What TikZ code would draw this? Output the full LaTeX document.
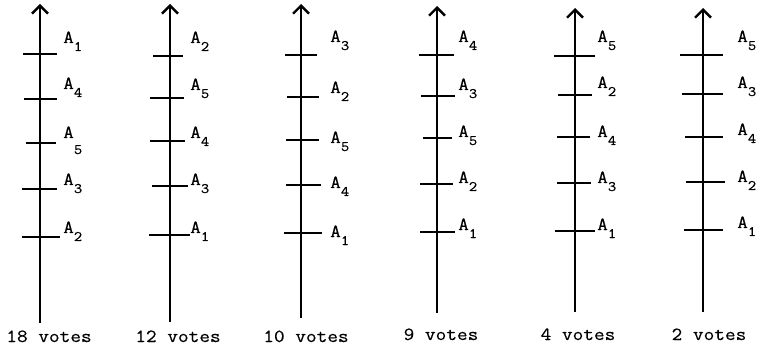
\documentclass[tikz,border=0pt]{standalone}
\usepackage{fontspec}
\setmainfont[FakeStretch=1.12,FakeBold=0.3]{Latin Modern Mono}
\usetikzlibrary{arrows.meta}
\newcommand\subsz{\fontsize{14.5}{14.5}\selectfont}
\begin{document}
\begin{tikzpicture}[x=1pt,y=-1pt,
  axis/.style={line width=2.7pt,-{Straight Barb[length=8pt,width=16pt,line width=2.4pt]}},
  tickmark/.style={line width=2.7pt},
  lab/.style={font=\fontsize{18.5}{18.5}\selectfont,inner sep=0pt,anchor=base west},
  votes/.style={font=\fontsize{18.5}{18.5}\selectfont,inner sep=0pt,anchor=base}]
\useasboundingbox (0,0) rectangle (761,350);
% axis 1
\coordinate (b1) at (40,323); \coordinate (t1) at (40,4);
\draw[axis] (b1) -- (t1);
\foreach \y/\a/\b/\n/\ly/\d in {54/23/57/1/43/8, 99/24/57/4/89/8, 143/26/56/5/138/16, 189/22/57/3/185/8, 237/22/60/2/233/8}{
  \draw[tickmark] (\a,\y) -- (\b,\y);
  \node[lab] (l1-\n) at (63,\ly) {A\raisebox{-\d pt}{\subsz\n}};}
\node[votes] (v1) at (49,342) {18 votes};
% axis 2
\coordinate (b2) at (170,322); \coordinate (t2) at (170,4);
\draw[axis] (b2) -- (t2);
\foreach \y/\a/\b/\n/\ly/\d in {56/153/183/2/43/8, 98/150/184/5/90/8, 141/150/185/4/138/8, 186/152/188/3/185/8, 235/149/190/1/233/8}{
  \draw[tickmark] (\a,\y) -- (\b,\y);
  \node[lab] (l2-\n) at (190,\ly) {A\raisebox{-\d pt}{\subsz\n}};}
\node[votes] (v2) at (178,342) {12 votes};
% axis 3
\coordinate (b3) at (301,318); \coordinate (t3) at (301,4);
\draw[axis] (b3) -- (t3);
\foreach \y/\a/\b/\n/\ly/\d in {55/285/317/3/42/8, 97/287/319/2/93/8, 140/286/319/5/143/8, 185/286/321/4/188/8, 233/284/322/1/237/8}{
  \draw[tickmark] (\a,\y) -- (\b,\y);
  \node[lab] (l3-\n) at (330,\ly) {A\raisebox{-\d pt}{\subsz\n}};}
\node[votes] (v3) at (306,342) {10 votes};
% axis 4
\coordinate (b4) at (437,313); \coordinate (t4) at (437,6);
\draw[axis] (b4) -- (t4);
\foreach \y/\a/\b/\n/\ly/\d in {55/419/454/4/42/8, 96/421/455/3/90/8, 138/423/452/5/137/8, 184/420/453/2/183/8, 232/420/455/1/230/8}{
  \draw[tickmark] (\a,\y) -- (\b,\y);
  \node[lab] (l4-\n) at (458,\ly) {A\raisebox{-\d pt}{\subsz\n}};}
\node[votes] (v4) at (441,340) {9 votes};
% axis 5
\coordinate (b5) at (575,312); \coordinate (t5) at (575,8);
\draw[axis] (b5) -- (t5);
\foreach \y/\a/\b/\n/\ly/\d in {56/554/595/5/42/8, 95/558/592/2/88/8, 137/557/590/4/137/8, 183/557/591/3/183/8, 231/555/595/1/230/8}{
  \draw[tickmark] (\a,\y) -- (\b,\y);
  \node[lab] (l5-\n) at (597,\ly) {A\raisebox{-\d pt}{\subsz\n}};}
\node[votes] (v5) at (578,340) {4 votes};
% axis 6
\coordinate (b6) at (703,312); \coordinate (t6) at (703,8);
\draw[axis] (b6) -- (t6);
\foreach \y/\a/\b/\n/\ly/\d in {55/680/723/5/42/8, 94/682/723/3/88/8, 137/685/723/4/135/8, 182/686/725/2/182/8, 230/684/723/1/228/8}{
  \draw[tickmark] (\a,\y) -- (\b,\y);
  \node[lab] (l6-\n) at (737,\ly) {A\raisebox{-\d pt}{\subsz\n}};}
\node[votes] (v6) at (709,340) {2 votes};
\end{tikzpicture}
\end{document}
